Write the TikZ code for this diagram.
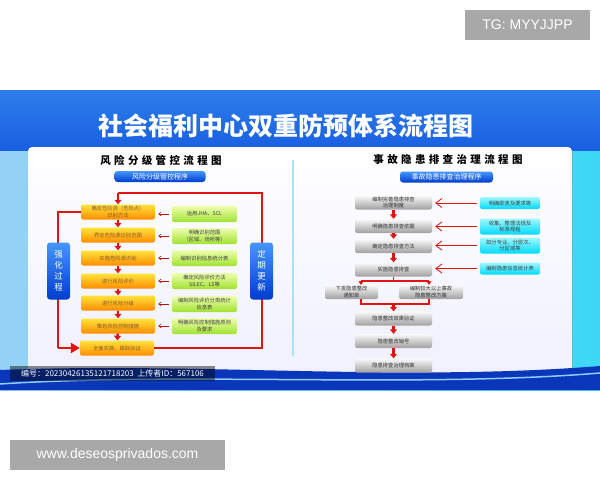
\documentclass[tikz,border=0pt]{standalone}
\usepackage{fontspec}
\setmainfont{Liberation Sans}
\newfontfamily\cjk{Noto Sans CJK SC}
\newfontfamily\cjkwide[LetterSpace=32]{Noto Sans CJK SC}
\usetikzlibrary{arrows.meta}

\definecolor{riskred}{RGB}{225,20,20}
\definecolor{orangetop}{RGB}{255,228,60}
\definecolor{orangebot}{RGB}{255,140,0}
\definecolor{greentop}{RGB}{238,255,175}
\definecolor{greenbot}{RGB}{160,225,50}
\definecolor{graytop}{RGB}{250,250,250}
\definecolor{graybot}{RGB}{160,160,160}
\definecolor{cyantop}{RGB}{160,248,255}
\definecolor{cyanbot}{RGB}{0,218,248}
\definecolor{btntop}{RGB}{70,150,255}
\definecolor{btnbot}{RGB}{0,60,205}
\definecolor{bannertop}{RGB}{45,125,235}
\definecolor{bannerbot}{RGB}{25,95,225}
\definecolor{sideleft}{RGB}{150,210,245}
\definecolor{sideright}{RGB}{60,215,245}
\definecolor{wavedark}{RGB}{10,55,185}
\definecolor{waveline}{RGB}{140,205,255}
\definecolor{markgray}{RGB}{168,168,168}

\tikzset{
  stepbox/.style={rounded corners=2pt, minimum width=74pt, minimum height=15pt,
    inner sep=1pt, align=center, top color=orangetop, bottom color=orangebot,
    text=brown!70!black, font=\cjk\fontsize{5.3}{6.3}\selectfont},
  methodbox/.style={rounded corners=2pt, minimum width=65pt, minimum height=16pt,
    inner sep=1pt, align=center, top color=greentop, bottom color=greenbot,
    text=black!75, font=\cjk\fontsize{5.3}{6.3}\selectfont},
  checkbox/.style={rounded corners=2pt, minimum width=77pt, minimum height=14pt,
    inner sep=1pt, align=center, top color=graytop, bottom color=graybot,
    text=black!80, font=\cjk\fontsize{5.3}{6.3}\selectfont},
  hintbox/.style={rounded corners=2pt, minimum width=60pt, minimum height=12pt,
    inner sep=1pt, align=center, top color=cyantop, bottom color=cyanbot,
    text=black!75, font=\cjk\fontsize{5.3}{6.3}\selectfont},
  btnbox/.style={rounded corners=3pt, minimum width=91pt, minimum height=11pt,
    inner sep=0pt, top color=btntop, bottom color=btnbot, text=white,
    font=\cjk\fontsize{7}{8}\selectfont},
  sidebox/.style={rounded corners=3pt, minimum width=23pt, minimum height=57pt,
    inner sep=0pt, align=center, top color=btntop, bottom color=btnbot,
    text=white, font=\cjk\fontsize{8.5}{11}\selectfont},
  flowarrow/.style={draw=riskred, line width=2.6pt, -{Triangle[length=4.5pt,width=7pt]}},
  loopline/.style={draw=riskred, line width=2.6pt},
  feedarrow/.style={draw=riskred!80!black, line width=0.6pt,
    -{Straight Barb[length=2.5pt,width=4pt]}, shorten >=3pt, shorten <=3pt},
  barbarrow/.style={draw=riskred, line width=0.8pt,
    -{Straight Barb[length=6pt,width=9pt]}, shorten >=3pt, shorten <=3pt},
  splitline/.style={draw=riskred, line width=1.2pt},
  markbox/.style={fill=markgray, text=white, inner sep=0pt, font=\fontsize{14}{16}\selectfont}
}

\begin{document}
\begin{tikzpicture}[x=1pt, y=-1pt]

  % Page and corner marks
  \useasboundingbox[fill=white] (0,0) rectangle (600,480);
  \node[markbox, minimum width=125pt, minimum height=30pt] (tgmark) at (527.5,25) {TG: MYYJJPP};
  \node[markbox, minimum width=215pt, minimum height=30pt] (webmark) at (117.5,455) {www.deseosprivados.com};

  % Poster background
  \fill[left color=sideleft, right color=sideright] (0,90) rectangle (600,390);
  \fill[top color=bannertop, bottom color=bannerbot] (0,90) rectangle (600,150);
  \fill[top color=white, bottom color=blue!6, rounded corners=4pt] (28,147) rectangle (572,380);

  % Title
  \node[text=white, font=\cjk\bfseries\fontsize{25}{28}\selectfont] (title) at (286,126) {社会福利中心双重防预体系流程图};

  % Bottom wave
  \fill[wavedark] (0,370) .. controls (200,362) and (400,382) .. (600,366) -- (600,390) -- (0,390) -- cycle;
  \draw[waveline, line width=1.5pt] (0,384) .. controls (180,372) and (420,388) .. (600,373);
  \fill[black, opacity=0.45] (10,366) rectangle (215,381);
  \node[text=white, font=\cjk\fontsize{8}{9}\selectfont] (serial) at (112.5,373.5) {编号：20230426135121718203\ \ 上传者ID：567106};

  % Divider
  \draw[cyan!35, line width=2pt] (293,160) -- (293,356);

  % Left chart: headers
  \node[font=\cjkwide\bfseries\fontsize{10.5}{12}\selectfont] (lhead) at (161,160) {风险分级管控流程图};
  \node[btnbox] (lbtn) at (160,176.5) {风险分级管控程序};

  % Left chart: steps
  \node[stepbox] (rs1) at (118,212) {确定危险源（危险点）\\识别方法};
  \node[stepbox] (rs2) at (118,235) {界定危险源识别范围};
  \node[stepbox] (rs3) at (118,258) {实施危险源识别};
  \node[stepbox] (rs4) at (118,281) {进行风险评价};
  \node[stepbox] (rs5) at (118,303) {进行风险分级};
  \node[stepbox] (rs6) at (118,326) {策划风险控制措施};
  \node[stepbox] (rs7) at (117,348) {全面实施、跟踪验证};

  % Left chart: methods
  \node[methodbox] (rm1) at (204.5,214) {运用JHA、SCL};
  \node[methodbox] (rm2) at (204.5,236) {明确识别范围\\（区域、场所等）};
  \node[methodbox] (rm3) at (204.5,258) {编制识别信息统计表};
  \node[methodbox] (rm4) at (204.5,281) {确定风险评价方法\\SILEC、LS等};
  \node[methodbox] (rm5) at (204.5,304) {编制风险评价分类统计\\信息表};
  \node[methodbox] (rm6) at (204.5,326) {明确风险控制措施原则\\及要求};

  \foreach \a/\b in {rs1/rs2,rs2/rs3,rs3/rs4,rs4/rs5,rs5/rs6,rs6/rs7}
    \draw[flowarrow] (\a) -- (\b);
  \foreach \i in {1,...,6}
    \draw[feedarrow] (rm\i.west) -- (rm\i.west -| rs\i.east);

  % Left chart: feedback loop
  \coordinate (lpTR) at (262,193);
  \coordinate (lpBR) at (262,348);
  \coordinate (lpTL) at (58,212);
  \coordinate (lpBL) at (58,348);
  \draw[loopline] (rs7.east) -- (lpBR) -- (lpTR) -- (rs1.north |- lpTR);
  \draw[flowarrow] (rs1.north |- lpTR) -- (rs1.north);
  \draw[loopline] (rs1.west) -- (lpTL) -- (lpBL);
  \draw[flowarrow, -{Triangle[length=9pt,width=10pt]}] (lpBL) -- (rs7.west);
  \node[sidebox] (strong) at (58.5,271) {强\\化\\过\\程};
  \node[sidebox] (renew) at (261.5,271) {定\\期\\更\\新};

  % Right chart: headers
  \node[font=\cjkwide\bfseries\fontsize{10.5}{12}\selectfont] (rhead) at (448,160) {事故隐患排查治理流程图};
  \node[btnbox, minimum width=93pt] (rbtn) at (446.5,177) {事故隐患排查治理程序};

  % Right chart: steps
  \node[checkbox] (hs1) at (393.5,202.5) {编制完善隐患排查\\治理制度};
  \node[checkbox] (hs2) at (393.5,226) {明确隐患排查依据};
  \node[checkbox] (hs3) at (393.5,246) {确定隐患排查方法};
  \node[checkbox] (hs4) at (393.5,269.5) {实施隐患排查};
  \node[checkbox, minimum width=53pt] (hs5a) at (351.5,292) {下发隐患整改\\通知单};
  \node[checkbox, minimum width=64pt] (hs5b) at (431,292) {编制较大以上事故\\隐患整改方案};
  \node[checkbox] (hs6) at (393.5,318.5) {隐患整改效果验证};
  \node[checkbox] (hs7) at (393.5,341) {隐患整改销号};
  \node[checkbox] (hs8) at (393.5,365.5) {隐患排查治理档案};

  % Right chart: hints
  \node[hintbox] (hm1) at (510,203) {明确职责及要求等};
  \node[hintbox, minimum height=16pt] (hm2) at (510,226.5) {收集、整理法规及\\标准规程};
  \node[hintbox, minimum height=16pt] (hm3) at (510,245.5) {如分专业、分层次、\\分区域等};
  \node[hintbox] (hm4) at (510,268.5) {编制隐患信息统计表};

  \foreach \a/\b in {hs1/hs2,hs2/hs3,hs3/hs4,hs6/hs7,hs7/hs8}
    \draw[flowarrow] (\a) -- (\b);
  \foreach \i in {1,...,4}
    \draw[barbarrow] (hm\i.west) -- (hm\i.west -| hs\i.east);

  % Right chart: split and join
  \coordinate (spT) at (393.5,281);
  \coordinate (spL) at (361,281);
  \coordinate (spR) at (429,281);
  \coordinate (jnL) at (361,304);
  \coordinate (jnR) at (429,304);
  \coordinate (jnM) at (393.5,304);
  \draw[splitline] (hs4.south) -- (spT);
  \draw[splitline] (spL) -- (spR);
  \draw[splitline, -{Triangle[length=3.5pt,width=5pt]}] (spL) -- (spL |- hs5a.north);
  \draw[splitline, -{Triangle[length=3.5pt,width=5pt]}] (spR) -- (spR |- hs5b.north);
  \draw[splitline] (jnL |- hs5a.south) -- (jnL) -- (jnR) -- (jnR |- hs5b.south);
  \draw[flowarrow] (jnM) -- (hs6.north);

\end{tikzpicture}
\end{document}
